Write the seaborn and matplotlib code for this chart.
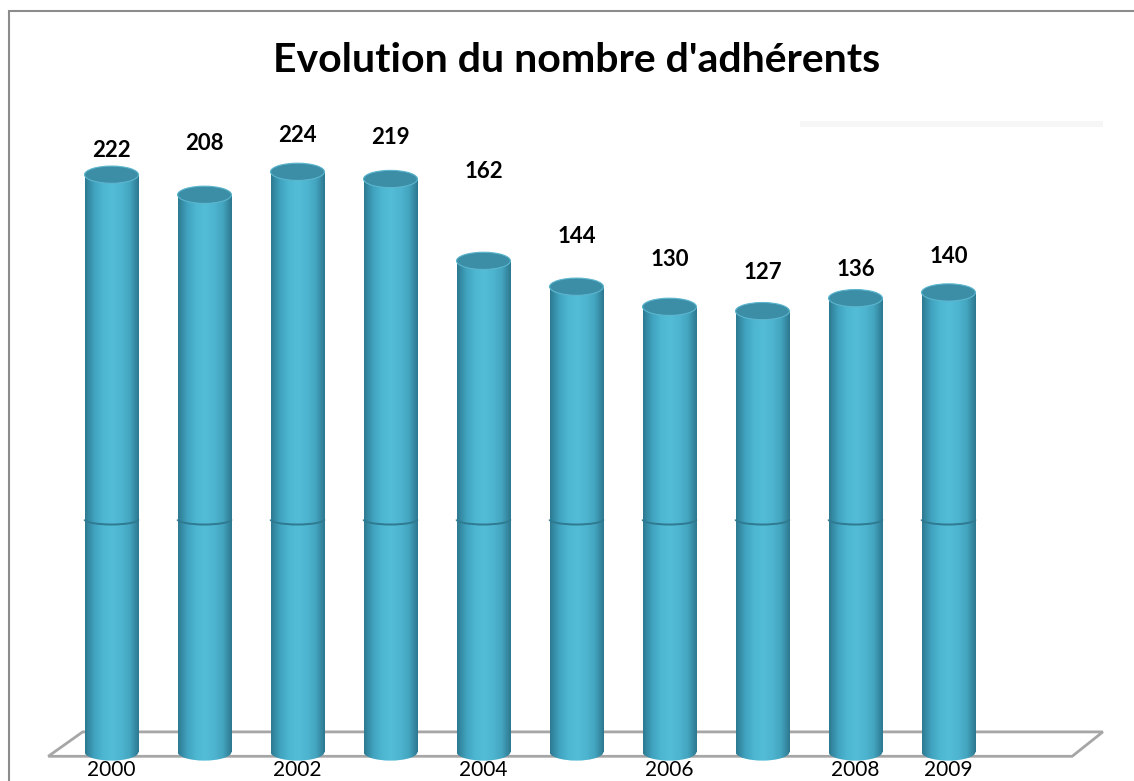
"""Evolution du nombre d'adhérents, 2000-2009: Excel-style 3D cylinder columns."""

import matplotlib
matplotlib.use("Agg")
import matplotlib.pyplot as plt
import numpy as np
import pandas as pd
import seaborn as sns
from matplotlib.colors import LinearSegmentedColormap
from matplotlib.patches import Arc, Ellipse, Polygon, Rectangle

YEARS = ["2000", "2001", "2002", "2003", "2004", "2005", "2006", "2007", "2008", "2009"]
MEMBERS = [222, 208, 224, 219, 162, 144, 130, 127, 136, 140]
TITLE = "Evolution du nombre d'adhérents"

# Layout of the fake 3D scene (value units of the y axis)
BASE = -180          # where the cylinders stand
RING = -18           # seam drawn around each cylinder
CAP_H = 12           # height of the elliptic caps
BAR_W = 0.58
LABEL_LIFT = [17, 36, 25, 29, 62, 35, 33, 27, 20, 25]   # Excel put the labels a bit everywhere

sns.set_theme(style="white")
plt.rcParams["font.family"] = ["Lato", "DejaVu Sans"]

body_cmap = LinearSegmentedColormap.from_list(
    "cyl", ["#2d7990", "#40a2be", "#4db6d1", "#53bcd7", "#4eb5d0", "#44a5c0", "#2c778e"])


def main():
    df = pd.DataFrame({"year": YEARS, "members": MEMBERS})
    df["height"] = df["members"] - BASE

    fig = plt.figure(figsize=(11.34, 7.81), dpi=100)
    ax = fig.add_axes([0, 29 / 781, 1, 652 / 781])

    sns.barplot(data=df, x="year", y="height", bottom=BASE, width=BAR_W,
                color="#4ab3ce", linewidth=0, ax=ax, zorder=3)

    ax.set_xlim(-1.199, 10.995)
    ax.set_ylim(BASE, 274)

    grad = body_cmap(np.linspace(0, 1, 256))[None, :, :]
    for i, (bar, val) in enumerate(zip(ax.patches, df["members"])):
        x0 = bar.get_x()
        w = bar.get_width()
        xc = x0 + w / 2
        bar.set_alpha(0)
        # rounded foot, hangs below the axes box
        foot = Ellipse((xc, BASE), w, CAP_H, facecolor="none", edgecolor="none",
                       clip_on=False, zorder=3)
        ax.add_patch(foot)
        for clip in (bar, foot):
            im = ax.imshow(grad, extent=(x0, x0 + w, BASE - CAP_H, val), aspect="auto",
                           zorder=3, interpolation="bilinear")
            im.set_clip_path(clip)
            if clip is foot:
                im.set_clip_box(fig.bbox)
        # seam
        ax.add_patch(Arc((xc, RING), w, CAP_H * 0.6, theta1=195, theta2=345,
                         color="#2f7a91", lw=1.4, zorder=4))
        # top cap
        ax.add_patch(Ellipse((xc, val), w, CAP_H, facecolor="#3b8ea6",
                             edgecolor="#5cb6ce", lw=0.8, zorder=5))
        ax.text(xc, val + LABEL_LIFT[i], str(val), ha="center", va="center",
                fontsize=16, fontweight="bold", color="black", zorder=6)

    # floor of the 3D box
    n = len(YEARS)
    floor = Polygon([(-0.68, BASE - 3), (n + 0.33, BASE - 3),
                     (n + 0.66, BASE + 14), (-0.31, BASE + 14)],
                    closed=True, facecolor="white", edgecolor="#a6a6a6", lw=2,
                    clip_on=False, zorder=1)
    ax.add_patch(floor)

    ticks = [y if (i % 2 == 0 or i == n - 1) else "" for i, y in enumerate(YEARS)]
    ax.set_xticks(range(n))
    ax.set_xticklabels(ticks, fontsize=15, color="black")
    ax.tick_params(axis="x", length=0, pad=6)
    ax.set_yticks([])
    ax.set_xlabel("")
    ax.set_ylabel("")
    for s in ax.spines.values():
        s.set_visible(False)
    ax.patch.set_alpha(0)

    # chart frame and faint back wall edge
    fig.patches.append(Rectangle((9 / 1134, -0.1), 1.2, 1.1 - 11 / 781,
                                 transform=fig.transFigure, fill=False,
                                 edgecolor="#8c8c8c", lw=1.5, zorder=0))
    fig.patches.append(Rectangle((800 / 1134, 1 - 127 / 781), 303 / 1134, 6 / 781,
                                 transform=fig.transFigure, facecolor="#f6f6f6",
                                 edgecolor="none", zorder=0))

    fig.text(577 / 1134, 1 - 60 / 781, TITLE, ha="center", va="center",
             fontsize=29.5, fontweight="bold", color="black")

    fig.savefig("out.png", dpi=100)


if __name__ == "__main__":
    main()
